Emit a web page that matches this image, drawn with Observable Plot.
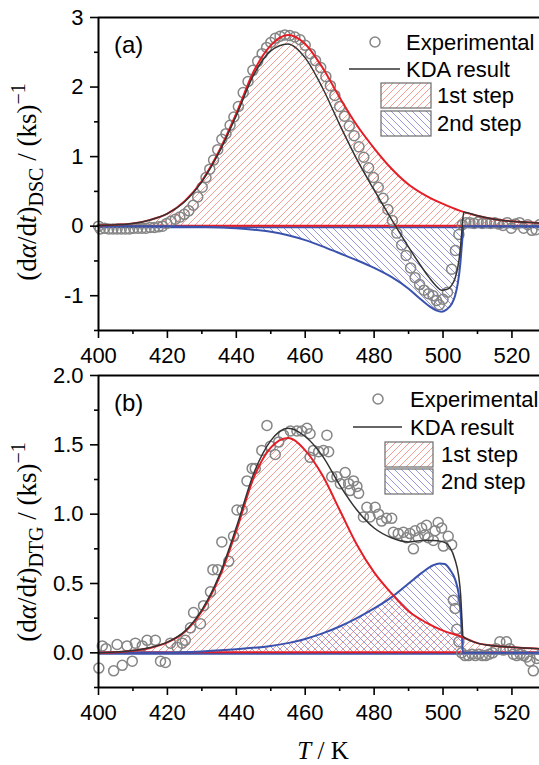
<!DOCTYPE html>
<html>
<head>
<meta charset="utf-8">
<script src="https://cdn.jsdelivr.net/npm/d3@7"></script>
<script src="https://cdn.jsdelivr.net/npm/@observablehq/plot@0.6"></script>
<style>
  body { margin: 0; background: #fff; }
  #chart { position: relative; width: 539px; height: 765px; }
  #chart svg { display: block; }
</style>
</head>
<body>
<div id="chart"></div>
<script>
// ---------- Panel (a): DSC ----------
const dscRedT = [400,405,410,415,420,425,430,435,440,445,450,455,460,465,470,475,480,485,490,495,500,505,510,515,520,528];
const dscRedV = [0.01,0.02,0.04,0.09,0.18,0.36,0.65,1.08,1.62,2.22,2.6,2.75,2.62,2.28,1.85,1.45,1.12,0.83,0.6,0.44,0.32,0.22,0.15,0.1,0.07,0.045];

const dscBlueT = [400,420,430,440,445,450,455,460,465,470,475,480,485,490,493,496,498,499.5,501,502.5,503.5,504.3,505,505.5,506,510,528];
const dscBlueV = [0,0,-0.01,-0.03,-0.05,-0.08,-0.13,-0.2,-0.29,-0.39,-0.49,-0.6,-0.73,-0.9,-1.03,-1.15,-1.21,-1.23,-1.2,-1.12,-1.0,-0.82,-0.55,-0.25,0,0,0];

const dscKdaT = [400,405,410,415,420,425,430,435,440,445,450,455,460,465,470,475,480,485,490,493,496,498,499.5,501,502.5,503.5,504.3,505,505.5,506,510,515,520,528];
const dscKdaV = [0.01,0.02,0.04,0.09,0.18,0.35,0.64,1.06,1.59,2.17,2.52,2.62,2.42,1.99,1.46,0.96,0.52,0.1,-0.3,-0.53,-0.74,-0.86,-0.92,-0.91,-0.85,-0.75,-0.59,-0.34,-0.05,0.2,0.15,0.1,0.07,0.045];

const dscExpT = [400,400.5,401.8,403,404.2,405.4,406.6,407.8,409,410.2,411.4,412.6,413.8,415,416.2,417.4,418.6,419.8,421,422.3,423.6,424.9,426.2,427.5,428.8,430.1,431.2,432.3,433.4,434.6,435.8,437,438.2,439.3,440.6,442,443.4,444.8,446.2,447.5,448.8,450,451.3,452.7,454.1,455.5,457,458.5,460,461.5,463,464.5,466,467.3,468.6,470,471.4,472.8,474.2,475.6,477,478.4,479.8,481.2,482.6,484,485.3,486.6,488,489.3,490.6,491.9,493.2,494.5,495.8,497.1,498.1,498.9,500,501.3,502.5,503.6,504.6,505.6,506.6,507.8,509,510.2,511.4,512.6,513.8,515,516.2,517.4,518.6,519.8,521,522.2,523.4,524.6,525.8,527,528];
const dscExpV = [0.0,-0.04,-0.03,-0.04,-0.04,-0.04,-0.04,-0.04,-0.04,-0.03,-0.03,-0.03,-0.03,-0.02,-0.02,-0.01,0.0,0.04,0.07,0.1,0.13,0.17,0.22,0.3,0.42,0.56,0.7,0.82,0.95,1.1,1.25,1.33,1.45,1.57,1.72,1.92,2.08,2.24,2.37,2.48,2.57,2.64,2.7,2.73,2.75,2.74,2.72,2.68,2.6,2.48,2.38,2.28,2.15,2.02,1.88,1.72,1.58,1.44,1.3,1.14,0.99,0.84,0.7,0.56,0.4,0.24,0.08,-0.1,-0.27,-0.42,-0.6,-0.74,-0.84,-0.92,-0.97,-1.0,-1.07,-1.13,-1.05,-0.95,-0.62,-0.35,-0.12,0.02,0.05,0.05,0.04,0.06,0.04,0.05,0.04,0.05,0.03,0.01,0.05,-0.03,0.03,0.05,-0.03,0.02,-0.06,-0.05,0.02];

// ---------- Panel (b): DTG ----------
const dtgRedT = [400,405,410,415,420,425,430,435,440,445,450,455,460,465,470,475,480,485,490,495,500,505,510,515,520,528];
const dtgRedV = [0,0.005,0.015,0.035,0.075,0.15,0.3,0.54,0.88,1.26,1.48,1.55,1.46,1.28,1.03,0.78,0.58,0.43,0.3,0.22,0.16,0.12,0.07,0.05,0.04,0.03];

const dtgBlueT = [400,420,430,440,450,455,460,465,470,475,480,485,490,494,497,499,500.5,502,503.5,504.5,505.1,505.5,505.8,510,528];
const dtgBlueV = [0,0.002,0.01,0.025,0.05,0.07,0.1,0.14,0.19,0.25,0.32,0.4,0.5,0.58,0.63,0.645,0.64,0.6,0.53,0.43,0.3,0.12,0,0,0];

const dtgKdaT = [400,405,410,415,420,425,430,435,440,445,450,455,460,465,470,475,480,485,490,494,497,500,502,503.5,504.5,505.1,505.5,505.8,510,515,520,528];
const dtgKdaV = [0,0.006,0.017,0.038,0.077,0.155,0.31,0.555,0.905,1.29,1.53,1.62,1.56,1.42,1.21,1.03,0.9,0.83,0.8,0.81,0.81,0.8,0.76,0.67,0.56,0.42,0.24,0.12,0.07,0.05,0.04,0.03];

const dtgExpT = [400.1,401.1,402.2,404.4,405.4,406.9,408.3,409.8,410.7,412.7,414.1,416.5,418,419.4,420.9,422.8,424.3,425.2,426.7,427.6,429.6,430.5,432.5,433.2,434.6,435.8,437.8,439.2,440.2,441.7,443.1,444.6,445.5,447.4,448.9,449.9,451.3,452.3,453.7,455.7,457.6,459,460.5,461.4,461.4,462.4,463.9,465.3,466.3,466.8,467.7,469.2,470.2,471.6,472.6,473,474,475,475.5,476.9,477.9,478.8,480.3,481.3,482.2,483.6,485.1,485.6,487,488.5,489.4,490.4,491.4,491.9,492.8,493.8,494.7,495.2,495.7,497.2,497.7,498.6,499.6,500.1,501.5,502.5,503,503.5,504,504.6,505.4,506.4,507.4,508.4,509.4,510.4,511.4,512.4,513.4,514.4,515.4,516.5,517.5,518.4,519.4,520.4,521.4,522.4,523.4,524.3,525.2,526.2,527.2,528];
const dtgExpV = [-0.11,0.05,0.03,-0.13,0.06,-0.09,0.05,-0.06,0.07,0.05,0.09,0.09,-0.06,-0.07,0.07,0.04,0.07,0.09,0.18,0.29,0.21,0.34,0.44,0.6,0.6,0.8,0.66,0.84,1.03,1.03,1.24,1.33,1.33,1.46,1.64,1.49,1.43,1.52,1.57,1.6,1.6,1.6,1.62,1.58,1.41,1.46,1.45,1.46,1.57,1.45,1.27,1.27,1.22,1.3,1.22,1.17,1.24,1.2,1.15,0.98,1.05,0.98,1.05,1.0,0.95,0.97,0.97,0.87,0.86,0.87,0.83,0.86,0.75,0.88,0.83,0.9,0.85,0.92,0.83,0.81,0.88,0.94,0.9,0.77,0.84,0.78,0.38,0.32,0.17,0.08,0.0,-0.02,-0.02,-0.01,-0.02,-0.01,-0.02,-0.02,-0.01,0.0,0.03,0.08,0.02,0.08,0.03,-0.01,-0.02,-0.01,-0.02,-0.03,-0.06,-0.13,-0.04,-0.02];

// ---------- Axis ticks ----------
const xTicks = [400,420,440,460,480,500,520];
const xMinor = [410,430,450,470,490,510];
const dscYTicks = [-1,0,1,2,3];
const dscYMinor = [-1.5,-0.5,0.5,1.5,2.5];
const dtgYTicks = [0,0.5,1.0,1.5,2.0];
const dtgYMinor = [-0.25,0.25,0.75,1.25,1.75];

const legendLabels = ["Experimental", "KDA result", "1st step", "2nd step"];

const RED = "#e41e26";
const BLUE = "#3a52ad";
const KDA = "#333333";
const EXP = "#858585";
const SANS = "'Liberation Sans', Arial, sans-serif";
const SERIF = "'Liberation Serif', 'Times New Roman', serif";

const zip = (T, V) => T.map((t, i) => ({T: t, v: V[i]}));

const root = d3.select("#chart");

// Hatch patterns shared by both panels
const defs = root.append("svg")
  .attr("width", 0).attr("height", 0)
  .style("position", "absolute")
  .append("defs");
function hatch(id, path, color) {
  defs.append("pattern")
    .attr("id", id).attr("patternUnits", "userSpaceOnUse")
    .attr("width", 7).attr("height", 7)
    .append("path").attr("d", path)
    .attr("stroke", color).attr("stroke-width", 0.8).attr("fill", "none");
}
hatch("hatchRed", "M0,7 L7,0 M-1,1 L1,-1 M6,8 L8,6", "#f08478");
hatch("hatchBlue", "M0,0 L7,7 M-1,6 L1,8 M6,-1 L8,1", "#7d7fd4");

function panel(o) {
  const red = zip(o.redT, o.redV);
  const blue = zip(o.blueT, o.blueV);
  const kda = zip(o.kdaT, o.kdaV);
  const exp = zip(o.expT, o.expV);
  const [y0, y1] = o.yDomain;
  const svg = Plot.plot({
    width: 539,
    height: o.height,
    marginLeft: 98,
    marginRight: 0,
    marginTop: o.marginTop,
    marginBottom: o.marginBottom,
    x: {domain: [400, 528], label: null},
    y: {domain: o.yDomain, label: null},
    style: {fontFamily: SANS, fontSize: "22px", color: "#000", background: "transparent", overflow: "visible"},
    marks: [
      Plot.areaY(red, {x: "T", y: "v", fill: "url(#hatchRed)", curve: "monotone-x"}),
      Plot.areaY(blue, {x: "T", y: "v", fill: "url(#hatchBlue)", curve: "monotone-x"}),
      Plot.ruleY([0], {stroke: BLUE, strokeWidth: 2, dy: 1}),
      Plot.ruleY([0], {stroke: RED, strokeWidth: 2, dy: -0.5}),
      Plot.dot(exp, {x: "T", y: "v", r: 5, stroke: EXP, strokeWidth: 1.5, fill: "none"}),
      Plot.lineY(blue, {x: "T", y: "v", stroke: BLUE, strokeWidth: 2, curve: "monotone-x"}),
      Plot.lineY(red, {x: "T", y: "v", stroke: RED, strokeWidth: 2, curve: "monotone-x"}),
      Plot.lineY(kda, {x: "T", y: "v", stroke: KDA, strokeWidth: 1.5, curve: "monotone-x"}),
      // frame lines
      Plot.ruleY([y0], {stroke: "#000", strokeWidth: 2}),
      Plot.ruleY([y1], {stroke: "#000", strokeWidth: 2}),
      Plot.ruleX([400], {stroke: "#000", strokeWidth: 2}),
      // ticks
      Plot.axisX(xTicks, {tickSize: 8, tickPadding: 9, fontSize: 22, strokeWidth: 1.6, tickFormat: d => String(d), fill: "#000"}),
      Plot.axisX(xMinor, {tickSize: 4, strokeWidth: 1.6, tickFormat: () => ""}),
      Plot.axisY(o.yTicks, {tickSize: 8, tickPadding: 7, fontSize: 22, strokeWidth: 1.6, tickFormat: o.yFmt, fill: "#000"}),
      Plot.axisY(o.yMinor, {tickSize: 4, strokeWidth: 1.6, tickFormat: () => ""})
    ]
  });
  root.node().appendChild(svg);
  const g = d3.select(svg);

  // panel tag
  g.append("text").attr("x", 114).attr("y", o.tagY).attr("text-anchor", "start")
    .style("font-family", SANS).style("font-size", "24px").attr("fill", "#000").text(o.tag);

  // y-axis title: (dα/dt)_sub / (ks)^-1
  const t = g.append("text")
    .attr("transform", `translate(36,${o.titleY}) rotate(-90)`)
    .attr("text-anchor", "middle")
    .style("font-family", SERIF).style("font-size", "27px").attr("fill", "#000");
  t.append("tspan").text("(d");
  t.append("tspan").style("font-style", "italic").text("α");
  t.append("tspan").text("/d");
  t.append("tspan").style("font-style", "italic").text("t");
  t.append("tspan").text(")");
  t.append("tspan").attr("dy", 7).style("font-size", "20px").text(o.sub);
  t.append("tspan").attr("dy", -7).text(" / (ks)");
  t.append("tspan").attr("dy", -11).style("font-size", "20px").text("−1");

  // legend
  const L = o.legend;
  const ls = g.append("g").attr("text-anchor", "start")
    .style("font-family", SANS).style("font-size", "22px").attr("fill", "#000");
  ls.append("circle").attr("cx", L.cx).attr("cy", L.y1).attr("r", 5)
    .attr("fill", "none").attr("stroke", EXP).attr("stroke-width", 1.5);
  ls.append("text").attr("x", L.tx).attr("y", L.y1).attr("dy", "0.36em").text(legendLabels[0]);
  ls.append("line").attr("x1", L.lx0).attr("x2", L.lx1).attr("y1", L.y2).attr("y2", L.y2)
    .attr("stroke", KDA).attr("stroke-width", 1.5);
  ls.append("text").attr("x", L.tx).attr("y", L.y2).attr("dy", "0.36em").text(legendLabels[1]);
  ls.append("rect").attr("x", L.bx).attr("y", L.b1).attr("width", L.bw).attr("height", L.bh)
    .attr("fill", "url(#hatchRed)").attr("stroke", "#6b6b6b").attr("stroke-width", 1.2);
  ls.append("text").attr("x", L.btx).attr("y", L.b1 + L.bh / 2).attr("dy", "0.36em").text(legendLabels[2]);
  ls.append("rect").attr("x", L.bx).attr("y", L.b2).attr("width", L.bw).attr("height", L.bh)
    .attr("fill", "url(#hatchBlue)").attr("stroke", "#6b6b6b").attr("stroke-width", 1.2);
  ls.append("text").attr("x", L.btx).attr("y", L.b2 + L.bh / 2).attr("dy", "0.36em").text(legendLabels[3]);
  return g;
}

panel({
  redT: dscRedT, redV: dscRedV, blueT: dscBlueT, blueV: dscBlueV,
  kdaT: dscKdaT, kdaV: dscKdaV, expT: dscExpT, expV: dscExpV,
  yDomain: [-1.5, 3], yTicks: dscYTicks, yMinor: dscYMinor,
  yFmt: d => (d < 0 ? "-" + Math.abs(d) : String(d)),
  height: 362, marginTop: 17, marginBottom: 32,
  tag: "(a)", tagY: 53, sub: "DSC", titleY: 182,
  legend: {cx: 375, tx: 406, y1: 42, lx0: 349, lx1: 400, y2: 69,
           bx: 381, bw: 50, bh: 25, b1: 83, b2: 111, btx: 437}
});

const gb = panel({
  redT: dtgRedT, redV: dtgRedV, blueT: dtgBlueT, blueV: dtgBlueV,
  kdaT: dtgKdaT, kdaV: dtgKdaV, expT: dtgExpT, expV: dtgExpV,
  yDomain: [-0.25, 2], yTicks: dtgYTicks, yMinor: dtgYMinor,
  yFmt: d3.format(".1f"),
  height: 403, marginTop: 13, marginBottom: 78,
  tag: "(b)", tagY: 49, sub: "DTG", titleY: 180,
  legend: {cx: 378, tx: 410, y1: 37, lx0: 353, lx1: 402, y2: 65,
           bx: 385, bw: 48, bh: 25, b1: 80, b2: 107, btx: 441}
});

// shared x-axis title
const xt = gb.append("text").attr("x", 323).attr("y", 397).attr("text-anchor", "middle")
  .style("font-family", SERIF).style("font-size", "25px").attr("fill", "#000");
xt.append("tspan").style("font-style", "italic").text("T");
xt.append("tspan").text(" / K");
</script>
</body>
</html>
